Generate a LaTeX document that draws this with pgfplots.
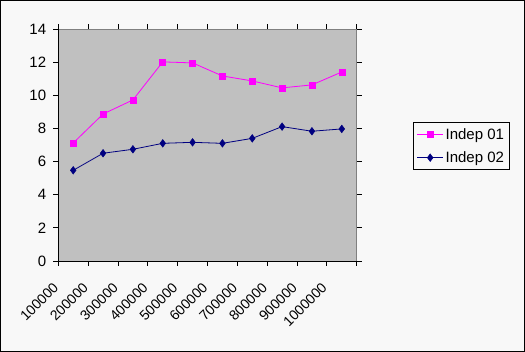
\documentclass[border=0pt]{standalone}
\usepackage{fontspec}
\setmainfont{Liberation Sans}
\usepackage{pgfplots}
\pgfplotsset{compat=1.18}
\definecolor{pinkc}{HTML}{FF00FF}
\definecolor{navyc}{HTML}{000080}
\definecolor{plotbg}{HTML}{C0C0C0}
\definecolor{chartbg}{HTML}{F8F8F8}
\definecolor{bordergray}{HTML}{808080}
\begin{document}
\begin{tikzpicture}[x=1pt,y=1pt]
\fill[chartbg] (0,0) rectangle (525,352);
\draw[black, line width=1pt] (0.5,0.5) rectangle (524.5,351.5);
\begin{axis}[
  at={(58.3pt,91pt)}, anchor=south west,
  scale only axis, width=298.4pt, height=231.7pt,
  xmin=0.5, xmax=10.5, ymin=0, ymax=14,
  ytick={0,2,...,14},
  xtick={0.5,1.5,...,10.5},
  xticklabels={},
  extra x ticks={1,2,...,10},
  extra x tick labels={100000,200000,300000,400000,500000,600000,700000,800000,900000,1000000},
  extra x tick style={major tick length=0pt},
  tick align=outside,
  major tick length=5pt,
  tick style={black, line width=0.8pt},
  axis background/.style={fill=plotbg},
  axis line style={draw=bordergray, line width=0.8pt},
  /pgf/number format/assume math mode=true,
  tick label style={font=\fontsize{15}{17}\selectfont},
  xticklabel style={font=\fontsize{14}{16}\selectfont, xshift=-21pt, yshift=-19pt, rotate=45, anchor=north east, inner sep=1pt},
  yticklabel style={inner sep=1pt, xshift=-6pt},
  axis on top,
  after end axis/.code={\draw[black, line width=0.8pt] (rel axis cs:0,1)--(rel axis cs:0,0)--(rel axis cs:1,0);},
  legend style={at={(1.19,0.601)}, anchor=north west, draw=black, line width=0.8pt, fill=chartbg,
    font=\fontsize{15}{17}\selectfont, row sep=7pt, inner xsep=3pt, inner ysep=4pt},
  legend cell align=left,
  legend image code/.code={\draw[mark repeat=2,mark phase=2] plot coordinates {(0pt,0pt)(13pt,0pt)(26pt,0pt)};},
]
\addplot[color=pinkc, line width=0.8pt, mark=square*, mark size=3pt, mark options={solid, fill=pinkc, line width=0.5pt}]
  coordinates {(1,7.13)(2,8.88)(3,9.73)(4,12.03)(5,11.97)(6,11.18)(7,10.88)(8,10.46)(9,10.64)(10,11.42)};
\addlegendentry{Indep 01}
\addplot[color=navyc, line width=0.8pt, mark=diamond*, mark size=3.8pt, mark options={solid, fill=navyc, line width=0.5pt}]
  coordinates {(1,5.48)(2,6.51)(3,6.75)(4,7.11)(5,7.17)(6,7.11)(7,7.41)(8,8.12)(9,7.84)(10,7.98)};
\addlegendentry{Indep 02}
\end{axis}
\end{tikzpicture}
\end{document}
